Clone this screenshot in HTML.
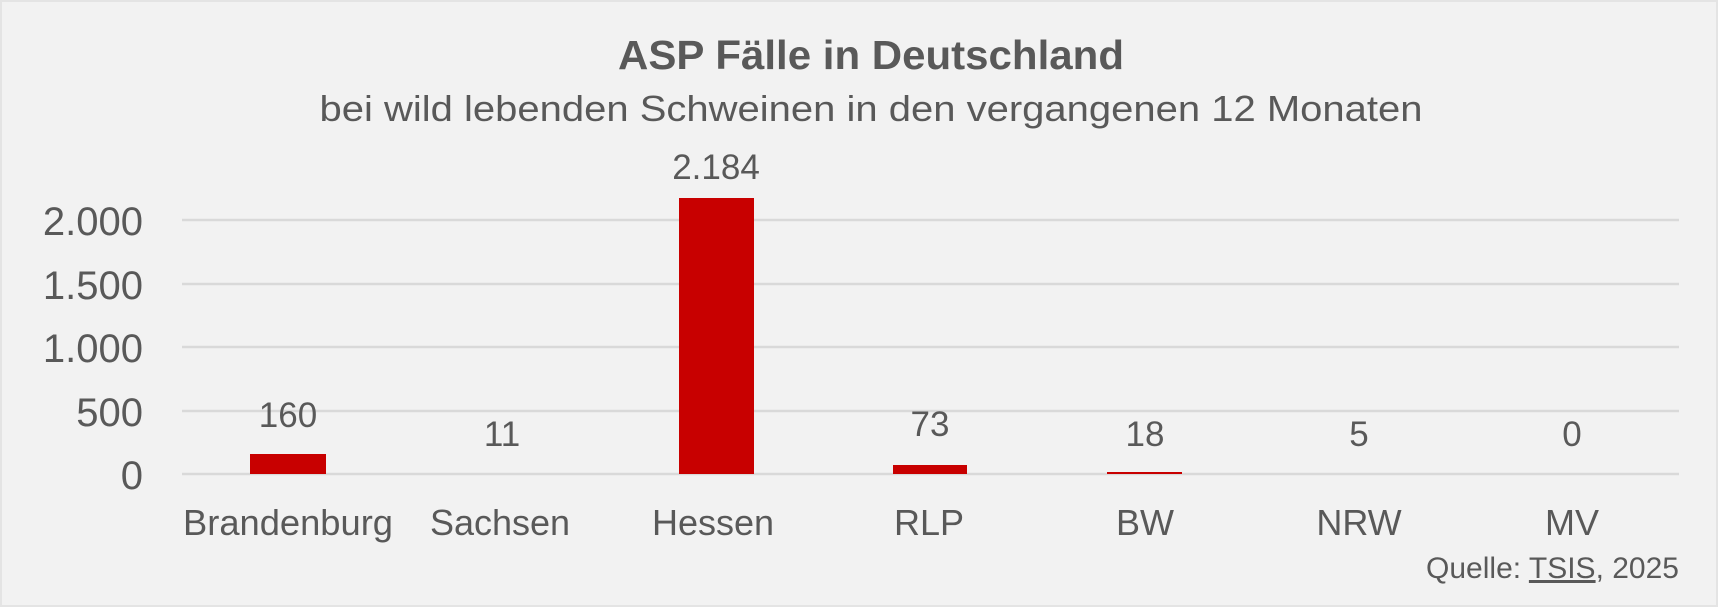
<!DOCTYPE html>
<html><head><meta charset="utf-8"><style>
html,body{margin:0;padding:0;background:#f2f2f2;}
svg{display:block;}
text{font-family:"Liberation Sans",sans-serif;fill:#595959;}
</style></head><body>
<svg width="1718" height="607" viewBox="0 0 1718 607">
<rect x="0" y="0" width="1718" height="607" fill="#f2f2f2"/>
<rect x="1" y="1" width="1716" height="605" fill="none" stroke="#e4e4e4" stroke-width="2"/>
<text x="871" y="69" font-size="41" font-weight="bold" text-anchor="middle" textLength="506" lengthAdjust="spacingAndGlyphs">ASP Fälle in Deutschland</text>
<text x="871" y="121" font-size="36" text-anchor="middle" textLength="1103" lengthAdjust="spacingAndGlyphs">bei wild lebenden Schweinen in den vergangenen 12 Monaten</text>
<g stroke="#d9d9d9" stroke-width="2.5">
<line x1="182" x2="1679" y1="220" y2="220"/>
<line x1="182" x2="1679" y1="284" y2="284"/>
<line x1="182" x2="1679" y1="347" y2="347"/>
<line x1="182" x2="1679" y1="411" y2="411"/>
<line x1="182" x2="1679" y1="474" y2="474"/>
</g>
<g font-size="40" text-anchor="end">
<text x="143" y="235">2.000</text>
<text x="143" y="299">1.500</text>
<text x="143" y="362">1.000</text>
<text x="143" y="426">500</text>
<text x="143" y="489">0</text>
</g>
<g fill="#c80000">
<rect x="250" y="454" width="76" height="20"/>
<rect x="679" y="198" width="75" height="276"/>
<rect x="893" y="465" width="74" height="9"/>
<rect x="1107" y="472" width="75" height="2"/>
</g>
<g font-size="35" text-anchor="middle">
<text x="288" y="427">160</text>
<text x="502" y="446">11</text>
<text x="716" y="179">2.184</text>
<text x="930" y="436">73</text>
<text x="1145" y="446">18</text>
<text x="1359" y="446">5</text>
<text x="1572" y="446">0</text>
</g>
<g font-size="36" text-anchor="middle">
<text x="288" y="535" textLength="210" lengthAdjust="spacingAndGlyphs">Brandenburg</text>
<text x="500" y="535">Sachsen</text>
<text x="713" y="535">Hessen</text>
<text x="929" y="535">RLP</text>
<text x="1145" y="535">BW</text>
<text x="1359" y="535">NRW</text>
<text x="1572" y="535">MV</text>
</g>
<text x="1679" y="578" font-size="30" text-anchor="end" fill="#7f7f7f">Quelle: <tspan text-decoration="underline">TSIS</tspan>, 2025</text>
</svg>
</body></html>
